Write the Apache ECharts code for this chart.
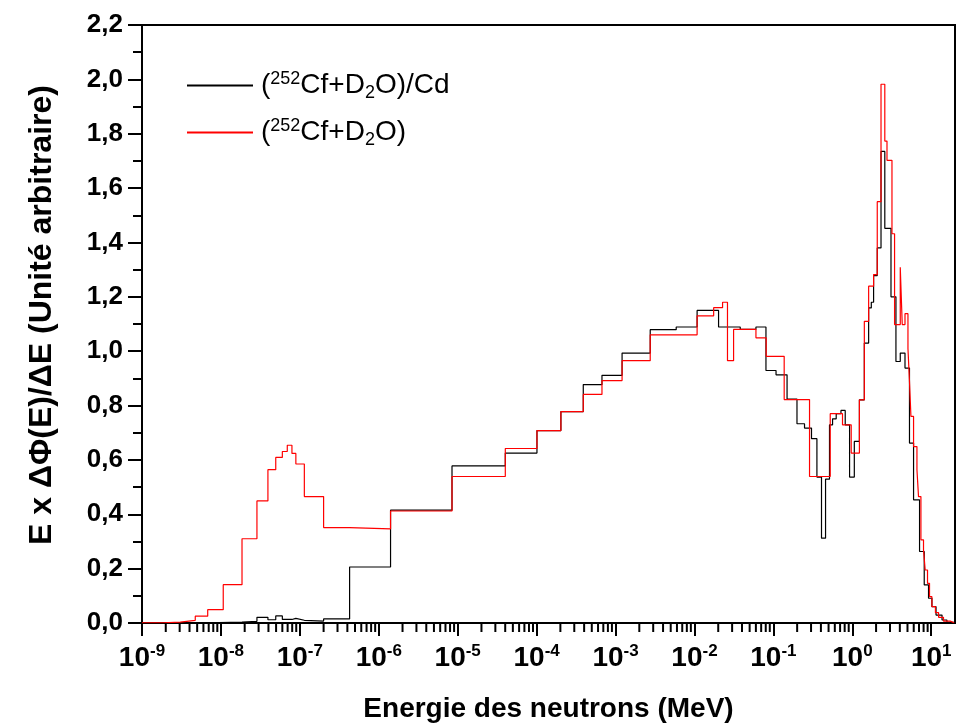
<!DOCTYPE html>
<html>
<head>
<meta charset="utf-8">
<script src="https://cdn.jsdelivr.net/npm/echarts@6/dist/echarts.min.js"></script>
<style>
  html, body { margin: 0; padding: 0; background: #fff; }
  #chart { width: 972px; height: 726px; }
</style>
</head>
<body>
<div id="chart"></div>
<script>
// bin edges (MeV) and values for (252Cf+D2O)/Cd
const cdEdges = [1e-9, 6.8e-9, 1.85e-8, 2.86e-8, 3.94e-8, 4.95e-8, 6.0e-8, 7.94e-8, 8.9e-8, 1.14e-7,
  2.0e-7, 4.27e-7, 1.41e-6, 8.47e-6, 4.01e-5, 1.01e-4, 2.03e-4, 3.90e-4, 6.73e-4, 1.21e-3,
  2.75e-3, 5.87e-3, 1.08e-2, 2.02e-2, 3.80e-2, 6.01e-2, 8.05e-2, 0.108, 0.149, 0.199,
  0.248, 0.304, 0.356, 0.407, 0.458, 0.514, 0.562, 0.625, 0.718, 0.813,
  0.923, 1.06, 1.23, 1.42, 1.61, 1.74, 1.86, 2.07, 2.31, 2.58,
  3.09, 3.57, 4.05, 4.65, 5.30, 5.97, 7.11, 8.15, 9.24, 10.2,
  11.5, 13.7, 15.8, 19.5]
const cdValues = [0.001, 0.003, 0.006, 0.021, 0.012, 0.026, 0.013, 0.017, 0.010, 0.007,
  0.015, 0.206, 0.415, 0.578, 0.625, 0.708, 0.778, 0.877, 0.911, 0.993,
  1.079, 1.089, 1.150, 1.089, 1.080, 1.089, 0.929, 0.913, 0.824, 0.733,
  0.717, 0.678, 0.537, 0.312, 0.529, 0.729, 0.751, 0.770, 0.782, 0.729,
  0.537, 0.668, 0.821, 1.030, 1.159, 1.180, 1.278, 1.380, 1.735, 1.452,
  1.200, 0.962, 0.993, 0.938, 0.662, 0.453, 0.263, 0.140, 0.091, 0.060,
  0.029, 0.011, 0.002]

// bin edges (MeV) and values for (252Cf+D2O)
const totEdges = [1e-9, 1.85e-9, 3.05e-9, 4.73e-9, 6.8e-9, 1.07e-8, 1.85e-8, 2.86e-8, 3.94e-8, 4.95e-8,
  6.0e-8, 6.93e-8, 7.94e-8, 8.9e-8, 1.14e-7, 2.0e-7, 4.27e-7, 1.41e-6, 8.47e-6, 4.01e-5,
  1.01e-4, 2.03e-4, 3.90e-4, 6.73e-4, 1.21e-3, 2.75e-3, 1.08e-2, 1.75e-2, 2.27e-2, 2.62e-2,
  3.13e-2, 6.01e-2, 8.1e-2, 0.137, 0.287, 0.525, 0.751, 0.968, 1.23, 1.42,
  1.61, 1.86, 2.07, 2.31, 2.58, 2.75, 3.18, 3.43, 4.05, 4.29,
  4.65, 5.07, 5.30, 5.53, 5.97, 6.59, 6.90, 7.40, 7.98, 8.38,
  8.97, 9.51, 10.2, 11.3, 12.4, 14.3, 17.4, 19.5]
const totValues = [0.001, 0.003, 0.010, 0.025, 0.049, 0.141, 0.310, 0.449, 0.564, 0.609,
  0.631, 0.654, 0.624, 0.585, 0.465, 0.351, 0.346, 0.412, 0.539, 0.642,
  0.708, 0.778, 0.841, 0.892, 0.965, 1.060, 1.130, 1.160, 1.180, 0.965,
  1.080, 1.049, 0.981, 0.822, 0.539, 0.770, 0.729, 0.625, 0.821, 1.110,
  1.239, 1.282, 1.550, 1.982, 1.773, 1.702, 1.432, 1.098, 1.309, 1.098,
  1.138, 1.010, 0.889, 0.760, 0.649, 0.564, 0.465, 0.306, 0.269, 0.195,
  0.146, 0.097, 0.060, 0.038, 0.021, 0.007, 0.001]

const majorTicks = [1e-9, 1e-8, 1e-7, 1e-6, 1e-5, 1e-4, 1e-3, 1e-2, 1e-1, 1e0, 1e1]
const minorSteps = [2, 3, 4, 5, 6, 7, 8, 9]

const FONT = 'Liberation Sans, Arial, sans-serif'
const NAME_CD = '(252Cf+D2O)/Cd'
const NAME_TOT = '(252Cf+D2O)'

const LEGEND_RICH = {
  [NAME_CD]: '{p|(}{sup|252}{n|Cf+D}{sub|2}{n|O)/Cd}',
  [NAME_TOT]: '{p|(}{sup|252}{n|Cf+D}{sub|2}{n|O)}',
}

// histogram steps: one point per left edge, plus the last right edge
function toSteps(edges, values) {
  const pts = values.map((v, i) => [edges[i], v])
  pts.push([edges[edges.length - 1], values[values.length - 1]])
  return pts
}

// minor log ticks 2..9 x each decade
const minorTicks = []
majorTicks.forEach((d) => {
  minorSteps.forEach((m) => {
    if (d * m < 20) minorTicks.push(d * m)
  })
})

const chart = echarts.init(document.getElementById('chart'))

chart.setOption({
  animation: false,
  backgroundColor: '#fff',
  grid: {
    left: 142, right: 17, top: 25, bottom: 103,
    outerBoundsMode: 'none',
    containLabel: false,
    show: true, borderColor: '#000', borderWidth: 2,
  },
  legend: {
    orient: 'vertical',
    left: 181,
    top: 65,
    itemWidth: 66,
    itemHeight: 14,
    itemGap: 15,
    itemStyle: { opacity: 0 },
    data: [NAME_CD, NAME_TOT],
    formatter: (name) => LEGEND_RICH[name],
    textStyle: {
      rich: {
        p: { fontSize: 28, fontFamily: FONT, color: '#000', lineHeight: 30, padding: [0, 0, 0, 3] },
        n: { fontSize: 28, fontFamily: FONT, color: '#000', lineHeight: 30 },
        sup: { fontSize: 18, fontFamily: FONT, color: '#000', padding: [0, 0, 13, 0] },
        sub: { fontSize: 18, fontFamily: FONT, color: '#000', padding: [15, 0, 0, 0] },
      },
    },
  },
  xAxis: {
    type: 'log',
    logBase: 10,
    min: 1e-9,
    max: 20,
    name: 'Energie des neutrons (MeV)',
    nameLocation: 'middle',
    nameGap: 72,
    nameTextStyle: { fontSize: 28, fontWeight: 'bold', fontFamily: FONT, color: '#000' },
    axisLine: { show: true, lineStyle: { color: '#000', width: 2 } },
    axisTick: { show: true, length: 13, lineStyle: { color: '#000', width: 2 }, customValues: majorTicks },
    splitLine: { show: false },
    axisLabel: {
      margin: 20,
      customValues: majorTicks,
      formatter: (v) => {
        const e = Math.round(Math.log10(v))
        if (Math.abs(Math.log10(v) - e) > 1e-6) return ''
        return '{b|10}{s|' + e + '}'
      },
      rich: {
        b: { fontSize: 28, fontWeight: 'bold', fontFamily: FONT, color: '#000' },
        s: { fontSize: 17, fontWeight: 'bold', fontFamily: FONT, color: '#000', padding: [0, 0, 14, 0] },
      },
    },
  },
  yAxis: {
    type: 'value',
    min: 0,
    max: 2.2,
    interval: 0.2,
    name: 'E x \u0394\u03A6(E)/\u0394E (Unit\u00e9 arbitraire)',
    nameLocation: 'middle',
    nameGap: 84,
    nameTextStyle: { fontSize: 32, fontWeight: 'bold', fontFamily: FONT, color: '#000', padding: [0, 0, 0, 18] },
    axisLine: { show: true, lineStyle: { color: '#000', width: 2 } },
    axisTick: { show: true, length: 14, lineStyle: { color: '#000', width: 2 } },
    minorTick: { show: true, splitNumber: 2, length: 9, lineStyle: { color: '#000', width: 2 } },
    splitLine: { show: false },
    axisLabel: {
      margin: 19,
      fontSize: 26,
      fontWeight: 'bold',
      fontFamily: FONT,
      color: '#000',
      formatter: (v) => v.toFixed(1).replace('.', ','),
    },
  },
  series: [
    {
      name: NAME_CD,
      type: 'line',
      step: 'end',
      symbol: 'none',
      color: '#000',
      lineStyle: { color: '#000', width: 1.2 },
      data: toSteps(cdEdges, cdValues),
    },
    {
      name: NAME_TOT,
      type: 'line',
      step: 'end',
      symbol: 'none',
      color: '#ff0000',
      lineStyle: { color: '#ff0000', width: 1.2 },
      data: toSteps(totEdges, totValues),
    },
  ],
})

// minor ticks of the log axis, placed with the chart's own x scale
const tickMarks = minorTicks.map((v) => {
  const p = chart.convertToPixel({ xAxisIndex: 0, yAxisIndex: 0 }, [v, 0])
  return {
    type: 'line',
    silent: true,
    z: 100,
    shape: { x1: p[0], y1: p[1], x2: p[0], y2: p[1] + 9 },
    style: { stroke: '#000', lineWidth: 2 },
  }
})
chart.setOption({ graphic: tickMarks })
</script>
</body>
</html>
